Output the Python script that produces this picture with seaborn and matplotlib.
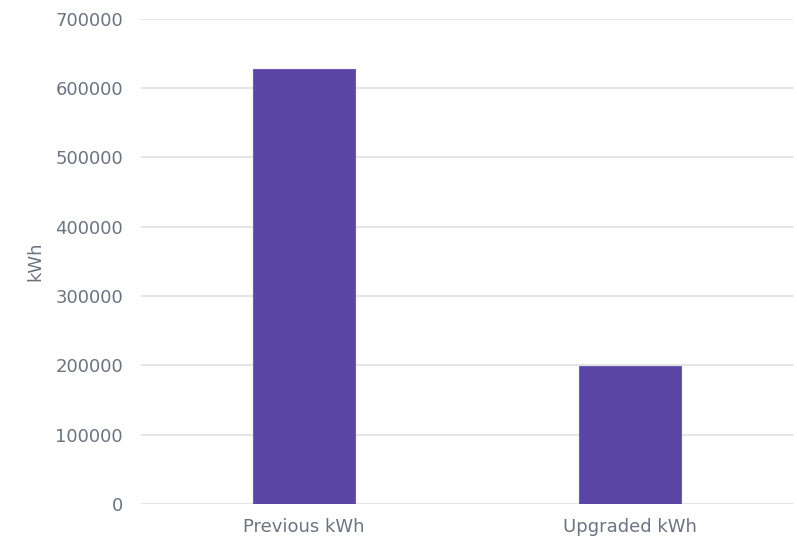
import matplotlib
matplotlib.use("Agg")
import matplotlib.pyplot as plt
import seaborn as sns
import pandas as pd

categories = ["Previous kWh", "Upgraded kWh"]
values = [628000, 199000]
y_ticks = [0, 100000, 200000, 300000, 400000, 500000, 600000, 700000]

sns.set_style("white")
plt.rcParams["font.family"] = ["DejaVu Sans"]

df = pd.DataFrame({"cat": categories, "val": values})
fig = plt.figure(figsize=(7.97, 5.39), dpi=100)
ax = fig.add_axes([141 / 797, 0.065, 652 / 797, 0.9])
sns.barplot(data=df, x="cat", y="val", color="#5A45A5", saturation=1, width=0.313,
            ax=ax, zorder=3, edgecolor="#6E5CB3", linewidth=0.8)
ax.set_xlim(-0.5, 1.5)
ax.set_ylim(0, 700000)
ax.set_yticks(y_ticks)
ax.set_yticklabels([str(t) for t in y_ticks])
ax.grid(axis="y", color="#E2E2E2", linewidth=1.2, zorder=0)
ax.set_axisbelow(True)
for s in ax.spines.values():
    s.set_visible(False)
ax.tick_params(axis="both", length=0, labelsize=13, labelcolor="#6B7480")
ax.tick_params(axis="y", pad=13)
ax.tick_params(axis="x", pad=10)
ax.set_xlabel("")
ax.set_ylabel("kWh", fontsize=13, color="#6B7480", labelpad=8)
fig.savefig("out.png", dpi=100)
